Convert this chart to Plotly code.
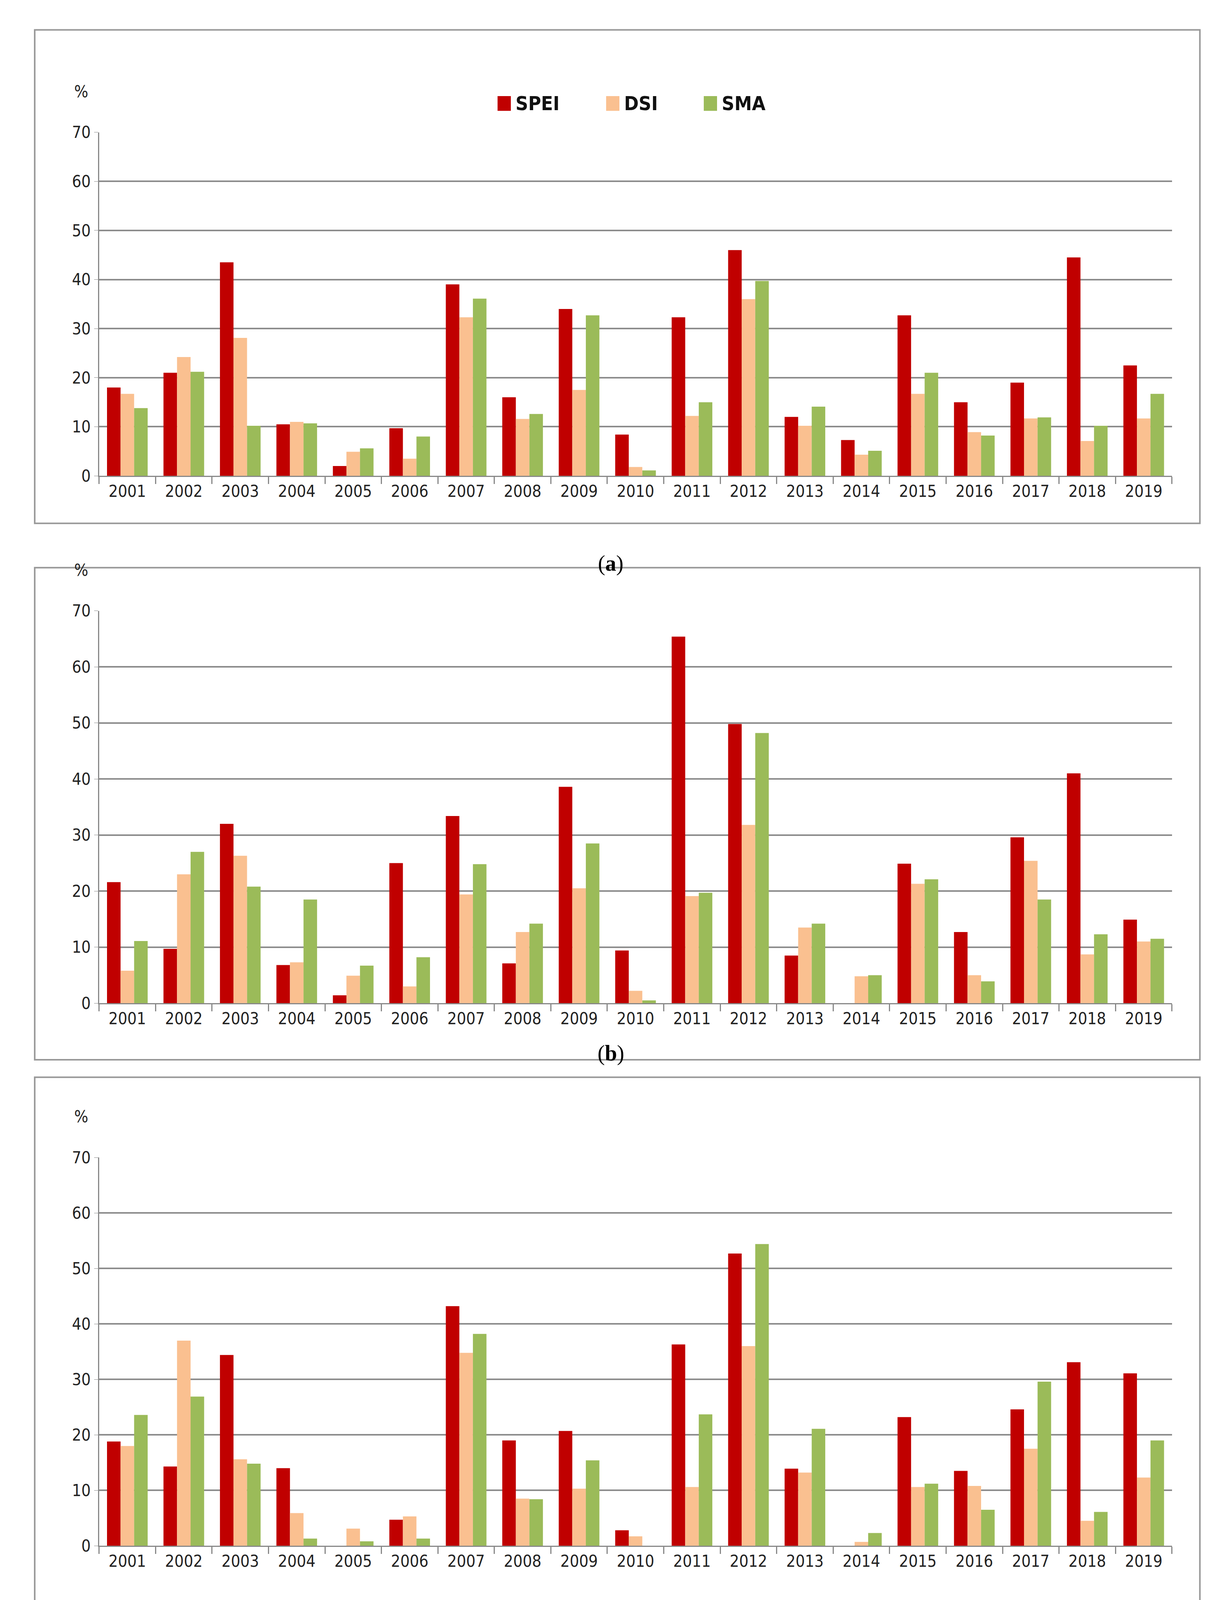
import plotly.graph_objects as go

years = [str(y) for y in range(2001, 2020)]
a_spei = [18,21,43.5,10.5,2,9.7,39,16,34,8.4,32.3,46,12,7.3,32.7,15,19,44.5,22.5]
a_dsi = [16.7,24.2,28.1,11,4.9,3.5,32.3,11.6,17.5,1.8,12.2,36,10.2,4.3,16.7,8.9,11.7,7.1,11.7]
a_sma = [13.8,21.2,10.2,10.7,5.6,8,36.1,12.6,32.7,1.1,15,39.7,14.1,5.1,21,8.2,11.9,10.2,16.7]
b_spei = [21.6,9.7,32,6.8,1.4,25,33.4,7.1,38.6,9.4,65.4,49.8,8.5,0,24.9,12.7,29.6,41,14.9]
b_dsi = [5.8,23,26.3,7.3,4.9,3,19.4,12.7,20.5,2.2,19.1,31.8,13.5,4.8,21.3,5,25.4,8.7,11]
b_sma = [11.1,27,20.8,18.5,6.7,8.2,24.8,14.2,28.5,0.5,19.7,48.2,14.2,5,22.1,3.9,18.5,12.3,11.5]
c_spei = [18.8,14.3,34.4,14,0,4.7,43.2,19,20.7,2.8,36.3,52.7,13.9,0,23.2,13.5,24.6,33.1,31.1]
c_dsi = [18,37,15.6,5.9,3.1,5.3,34.8,8.5,10.3,1.7,10.6,36,13.2,0.7,10.6,10.8,17.5,4.5,12.3]
c_sma = [23.6,26.9,14.8,1.3,0.8,1.3,38.2,8.4,15.4,0,23.7,54.4,21.1,2.3,11.2,6.5,29.6,6.1,19]
d_spei = [23.2,17.7,50,15.1,0.3,0.7,54,23.3,13,17,16.7,37,0.4,2.5,25,17,27.2,58.5,14.3]
d_dsi = [23.1,29.3,20.2,8.6,2.2,3.7,43.3,19,17.1,2.7,10.1,24.7,6.1,4.6,7.8,11.1,5.4,8.5,14.3]
d_sma = [23.3,26.8,21.1,2.1,0,1.1,41.3,22.8,10.7,0.6,8.9,36.6,9.6,1.2,13.8,14.7,5.4,28.4,37.3]
panels = [(a_spei, a_dsi, a_sma), (b_spei, b_dsi, b_sma), (c_spei, c_dsi, c_sma), (d_spei, d_dsi, d_sma)]
labels = ["a", "b", "c", "d"]
series = ["SPEI", "DSI", "SMA"]
colors = ["#C00000", "#FAC090", "#9BBB59"]

ydoms = [(0.7872, 0.9450), (0.5450, 0.7252), (0.2958, 0.4741), (0.0243, 0.2224)]
xdom = (0.079, 0.962)
boxes = [(0.7654, 0.992), (0.519, 0.745), (0.270, 0.511), (0.016, 0.246)]
labely = [0.753, 0.522, 0.258, 0.004]

FONT = "DejaVu Sans Condensed, Liberation Sans Narrow, Arial Narrow, sans-serif"
fig = go.Figure()
layout = dict(width=3111, height=5623, margin=dict(l=0, r=0, t=0, b=0),
              paper_bgcolor="white", plot_bgcolor="white", barmode="group",
              bargap=0.28, bargroupgap=0.0, showlegend=False,
              font=dict(family=FONT, size=40, color="#222"))
shapes, annots = [], []
for i, vals in enumerate(panels):
    n = "" if i == 0 else str(i + 1)
    for s, v, c in zip(series, vals, colors):
        fig.add_trace(go.Bar(x=years, y=v, name=s, marker=dict(color=c, line=dict(width=0)),
                             xaxis="x" + n, yaxis="y" + n))
    layout["xaxis" + n] = dict(domain=xdom, anchor="y" + n, showline=True, linecolor="#888",
                               linewidth=3, ticks="outside", tickson="boundaries", ticklen=18,
                               tickcolor="#888", tickwidth=3, tickfont=dict(size=42), fixedrange=True)
    layout["yaxis" + n] = dict(domain=ydoms[i], anchor="x" + n, range=[0, 70], dtick=10,
                               showline=True, linecolor="#888", linewidth=3, ticks="outside",
                               ticklen=10, tickcolor="#888", showgrid=True, gridcolor="#8c8c8c",
                               gridwidth=4, tickfont=dict(size=42), zeroline=False)
    shapes.append(dict(type="rect", xref="paper", yref="paper", x0=0.026, x1=0.985,
                       y0=boxes[i][0], y1=boxes[i][1], line=dict(color="#999", width=4)))
    annots.append(dict(text="%", xref="paper", yref="paper", x=0.058, y=ydoms[i][1] + 0.014,
                       yanchor="bottom", showarrow=False, font=dict(size=42)))
    annots.append(dict(text="(<b>%s</b>)" % labels[i], xref="paper", yref="paper", x=0.5,
                       y=labely[i], showarrow=False,
                       font=dict(size=56, family="Liberation Serif, serif", color="#000")))

# manual legend (panel a)
leg_x = [1266, 1544, 1794]
for s, c, lx in zip(series, colors, leg_x):
    shapes.append(dict(type="rect", xref="paper", yref="paper", x0=lx / 3111, x1=(lx + 34) / 3111,
                       y0=1 - 254 / 5623, y1=1 - 216 / 5623, fillcolor=c, line=dict(width=0)))
    annots.append(dict(text="<b>%s</b>" % s, xref="paper", yref="paper", x=(lx + 44) / 3111,
                       y=1 - 235 / 5623, xanchor="left", yanchor="middle", showarrow=False,
                       font=dict(size=50, color="#111")))
layout["shapes"] = shapes
layout["annotations"] = annots
fig.update_layout(**layout)
fig.write_html("out.html")
